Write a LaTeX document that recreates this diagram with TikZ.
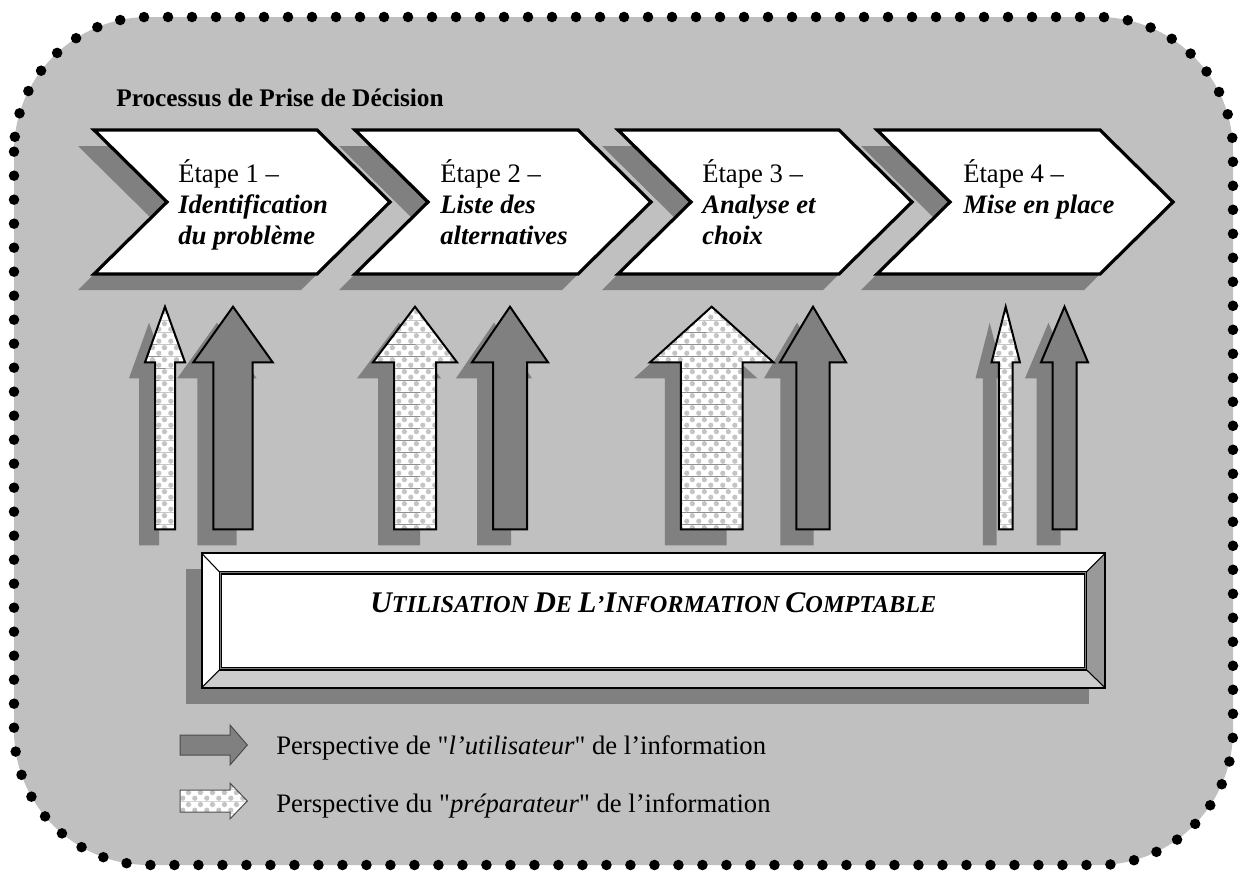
\documentclass[tikz,border=0pt]{standalone}
\usepackage{fontspec}
\setmainfont{Liberation Serif}
\usetikzlibrary{patterns.meta}

\definecolor{panelgray}{HTML}{C0C0C0}
\definecolor{shadowgray}{HTML}{808080}
\definecolor{bevellight}{HTML}{CCCCCC}
\definecolor{beveldark}{HTML}{999999}
\definecolor{bubblegray}{HTML}{C4C4C4}

\tikzdeclarepattern{
  name=bubbles,
  type=colored,
  bottom left={(0pt,0pt)},
  top right={(9pt,9pt)},
  tile size={(9pt,9pt)},
  code={
    \fill[white] (0pt,0pt) rectangle (9pt,9pt);
    \fill[bubblegray] (2.25pt,2.25pt) circle (2.1pt);
    \fill[bubblegray] (6.75pt,6.75pt) circle (2.1pt);
  }
}

\newcommand{\bigletter}[1]{{\fontsize{22.5}{24}\selectfont #1}}

\begin{document}
\begin{tikzpicture}[x=0.75pt,y=-0.75pt,
  chevronbox/.style={draw=black,line width=2.4pt,fill=white,line join=miter},
  user/.style={draw=black,line width=1.5pt,fill=shadowgray},
  prep/.style={draw=black,line width=1.5pt,pattern=bubbles},
  steptext/.style={anchor=base west,inner sep=0pt,text width=210pt,align=flush left,
    font=\fontsize{20}{23.25}\selectfont},
  legendtext/.style={anchor=base west,inner sep=0pt,font=\fontsize{20}{24}\selectfont}]
   \path[use as bounding box] (0,0) rectangle (1239,872);

   % dotted panel
   \draw[fill=panelgray,line width=7.9pt,dash pattern=on 0pt off 18pt,line cap=round,
     rounded corners=101pt] (14,17) rectangle (1233,865);

   \node[anchor=base,font=\fontsize{19}{22}\selectfont\bfseries] (title) at (280,106)
     {Processus de Prise de Décision};

   % chevrons
   \foreach \l/\r in {94/317,355/578,618/839,877/1100}
     \fill[shadowgray,shift={(-16,16)}] (\l,130) -- (\r,130) -- (\r+73,202) -- (\r,274)
       -- (\l,274) -- (\l+73,202) -- cycle;
   \foreach \l/\r in {94/317,355/578,618/839,877/1100}
     \draw[chevronbox] (\l,130) -- (\r,130) -- (\r+73,202) -- (\r,274)
       -- (\l,274) -- (\l+73,202) -- cycle;

   \node[steptext] (step1) at (178,182) {Étape 1 –\\{\bfseries\itshape Identification\\du problème}};
   \node[steptext] (step2) at (440,182) {Étape 2 –\\{\bfseries\itshape Liste des\\alternatives}};
   \node[steptext] (step3) at (702,182) {Étape 3 –\\{\bfseries\itshape Analyse et\\choix}};
   \node[steptext] (step4) at (963,182) {Étape 4 –\\{\bfseries\itshape Mise en place}};

   % up arrows
   \foreach \cx/\hw/\sw/\kind in {165/20/10/prep,233/39.7/19.7/user,415/42/21/prep,
       510/38/17/user,711.7/61.7/30.8/prep,813/33/16.7/user,1005.7/14.2/6.8/prep,1064.5/23.5/12/user}
     \fill[shadowgray,shift={(-16,16)}] (\cx,306.7) -- (\cx+\hw,362.3) -- (\cx+\sw,362.3)
       -- (\cx+\sw,529.3) -- (\cx-\sw,529.3) -- (\cx-\sw,362.3) -- (\cx-\hw,362.3) -- cycle;
   \foreach \cx/\hw/\sw/\kind in {165/20/10/prep,233/39.7/19.7/user,415/42/21/prep,
       510/38/17/user,711.7/61.7/30.8/prep,813/33/16.7/user,1005.7/14.2/6.8/prep,1064.5/23.5/12/user}
     \draw[\kind,line join=miter] (\cx,306.7) -- (\cx+\hw,362.3) -- (\cx+\sw,362.3)
       -- (\cx+\sw,529.3) -- (\cx-\sw,529.3) -- (\cx-\sw,362.3) -- (\cx-\hw,362.3) -- cycle;

   % bevelled box
   \fill[shadowgray] (186,569.3) rectangle (1089,703.7);
   \fill[white] (201.7,553.3) -- (1105,553.3) -- (1086.7,571.7) -- (219.3,571.7) -- cycle;
   \fill[white] (201.7,553.3) -- (219.3,571.7) -- (219.3,670) -- (201.7,687.7) -- cycle;
   \fill[bevellight] (201.7,687.7) -- (219.3,670) -- (1086.7,670) -- (1105,687.7) -- cycle;
   \fill[beveldark] (1105,553.3) -- (1105,687.7) -- (1086.7,670) -- (1086.7,571.7) -- cycle;
   \draw[line width=0.8pt] (201.7,553.3) -- (219.3,571.7) (1105,553.3) -- (1086.7,571.7)
     (201.7,687.7) -- (219.3,670) (1105,687.7) -- (1086.7,670);
   \draw[line width=1.5pt] (201.7,553.3) rectangle (1105,687.7);
   \draw[line width=0.9pt,double=shadowgray,double distance=0.8pt,fill=white]
     (220.5,572.9) rectangle (1085.5,668.8);
   \node[anchor=base,inner sep=0pt,font=\fontsize{18.2}{20}\selectfont\bfseries\itshape] (usage)
     at (653.3,612) {\bigletter{U}TILISATION \bigletter{D}E \bigletter{L}’\bigletter{I}NFORMATION \bigletter{C}OMPTABLE};

   % legend
   \draw[draw=black!70,line width=0.75pt,fill=shadowgray,line join=miter] (180,735) -- (230,735)
     -- (230,725) -- (247.3,745) -- (230,765) -- (230,755) -- (180,755) -- cycle;
   \draw[draw=black!70,line width=0.75pt,pattern=bubbles,line join=miter] (180,790) -- (230,790)
     -- (230,783) -- (247.3,801) -- (230,819) -- (230,812) -- (180,812) -- cycle;
   \node[legendtext] (userkey) at (276,754)
     {Perspective de \textquotedbl\textit{l’utilisateur}\textquotedbl{} de l’information};
   \node[legendtext] (prepkey) at (276,812)
     {Perspective du \textquotedbl\textit{préparateur}\textquotedbl{} de l’information};

 \end{tikzpicture}
\end{document}
